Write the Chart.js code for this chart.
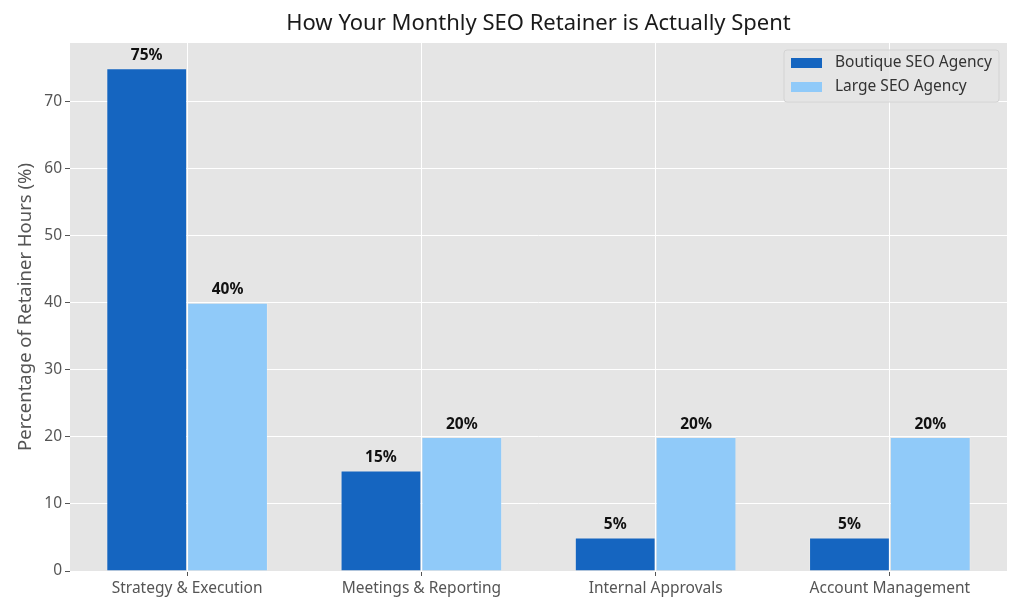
<!DOCTYPE html>
<html lang="en">
<head>
    <meta charset="UTF-8">
    <title>How Your Monthly SEO Retainer is Actually Spent</title>
    <script src="https://cdn.jsdelivr.net/npm/chart.js"></script>
    <style>
        body {
            margin: 0;
            padding: 0;
            background: #ffffff;
        }
        #wrap {
            width: 1024px;
            height: 615px;
        }
    </style>
</head>
<body>
    <div id="wrap">
        <canvas id="retainerChart" width="1024" height="615"></canvas>
    </div>

    <script>
        // chart data
        var categories = ['Strategy & Execution', 'Meetings & Reporting', 'Internal Approvals', 'Account Management'];
        var boutiqueHours = [75, 15, 5, 5];
        var largeHours = [40, 20, 20, 20];
        var seriesNames = ['Boutique SEO Agency', 'Large SEO Agency'];
        var yTicks = [0, 10, 20, 30, 40, 50, 60, 70];

        var chartTitle = 'How Your Monthly SEO Retainer is Actually Spent';
        var yTitle = 'Percentage of Retainer Hours (%)';
        var fontFamily = '"Noto Sans", "Open Sans", sans-serif';

        // gray panel behind the plot, like ggplot
        var panelBackground = {
            id: 'panelBackground',
            beforeDraw: function (chart) {
                var a = chart.chartArea;
                var c = chart.ctx;
                c.save();
                c.fillStyle = '#e5e5e5';
                c.fillRect(a.left, a.top, a.right - a.left, a.bottom - a.top);
                c.restore();
            }
        };

        // title, axis title, value labels and legend box
        var overlay = {
            id: 'overlay',
            afterDatasetsDraw: function (chart) {
                var c = chart.ctx;
                var a = chart.chartArea;
                c.save();

                // value labels on bars
                c.fillStyle = '#111111';
                c.font = 'bold 15.5px ' + fontFamily;
                c.textAlign = 'center';
                c.textBaseline = 'bottom';
                chart.data.datasets.forEach(function (ds, i) {
                    var meta = chart.getDatasetMeta(i);
                    meta.data.forEach(function (bar, j) {
                        c.fillText(ds.data[j] + '%', bar.x, bar.y - 5);
                    });
                });

                // title
                c.fillStyle = '#1a1a1a';
                c.font = '22px ' + fontFamily;
                c.textBaseline = 'middle';
                c.fillText(chartTitle, (a.left + a.right) / 2, 24);

                // y axis title
                c.translate(26, (a.top + a.bottom) / 2);
                c.rotate(-Math.PI / 2);
                c.fillStyle = '#555555';
                c.font = '18.5px ' + fontFamily;
                c.fillText(yTitle, 0, 0);
                c.restore();

                // legend
                c.save();
                var lx = a.right - 223, ly = a.top + 7, lw = 215, lh = 52;
                c.beginPath();
                c.roundRect(lx, ly, lw, lh, 3);
                c.fillStyle = 'rgba(229,229,229,0.8)';
                c.fill();
                c.strokeStyle = '#d3d3d3';
                c.lineWidth = 1;
                c.stroke();
                c.font = '15.5px ' + fontFamily;
                c.textAlign = 'left';
                c.textBaseline = 'middle';
                chart.data.datasets.forEach(function (ds, i) {
                    var yy = ly + 13 + i * 24;
                    c.fillStyle = ds.backgroundColor;
                    c.fillRect(lx + 7, yy - 5, 31, 10);
                    c.fillStyle = '#333333';
                    c.fillText(ds.label, lx + 51, yy);
                });
                c.restore();
            }
        };

        var ctx = document.getElementById('retainerChart').getContext('2d');
        var retainerChart = new Chart(ctx, {
            type: 'bar',
            data: {
                labels: categories,
                datasets: [{
                    label: seriesNames[0],
                    data: boutiqueHours,
                    backgroundColor: '#1565c0',
                    borderColor: 'rgba(255,255,255,0.2)',
                    borderWidth: 1,
                    borderSkipped: 'bottom',
                    categoryPercentage: 0.69,
                    barPercentage: 1.0
                }, {
                    label: seriesNames[1],
                    data: largeHours,
                    backgroundColor: '#90caf9',
                    borderColor: 'rgba(255,255,255,0.2)',
                    borderWidth: 1,
                    borderSkipped: 'bottom',
                    categoryPercentage: 0.69,
                    barPercentage: 1.0
                }]
            },
            options: {
                responsive: false,
                animation: false,
                devicePixelRatio: 1,
                layout: {
                    padding: { top: 43, right: 17, left: 0, bottom: 0 }
                },
                plugins: {
                    legend: { display: false },
                    title: { display: false },
                    tooltip: { enabled: false }
                },
                scales: {
                    x: {
                        offset: true,
                        afterFit: function (s) { s.height = 44; },
                        border: { display: false },
                        grid: {
                            offset: false,
                            color: '#ffffff',
                            lineWidth: 1,
                            tickColor: '#555555',
                            tickLength: 5
                        },
                        ticks: {
                            color: '#555555',
                            font: { family: fontFamily, size: 15.5 },
                            padding: 3,
                            maxRotation: 0
                        }
                    },
                    y: {
                        min: 0,
                        max: 78.75,
                        afterFit: function (s) { s.width = 70; },
                        afterBuildTicks: function (s) {
                            s.ticks = yTicks.map(function (v) { return { value: v }; });
                        },
                        border: { display: false },
                        grid: {
                            color: '#ffffff',
                            lineWidth: 1,
                            tickColor: '#555555',
                            tickLength: 5
                        },
                        ticks: {
                            color: '#555555',
                            font: { family: fontFamily, size: 15.5 },
                            padding: 3
                        }
                    }
                }
            },
            plugins: [panelBackground, overlay]
        });
    </script>
</body>
</html>
